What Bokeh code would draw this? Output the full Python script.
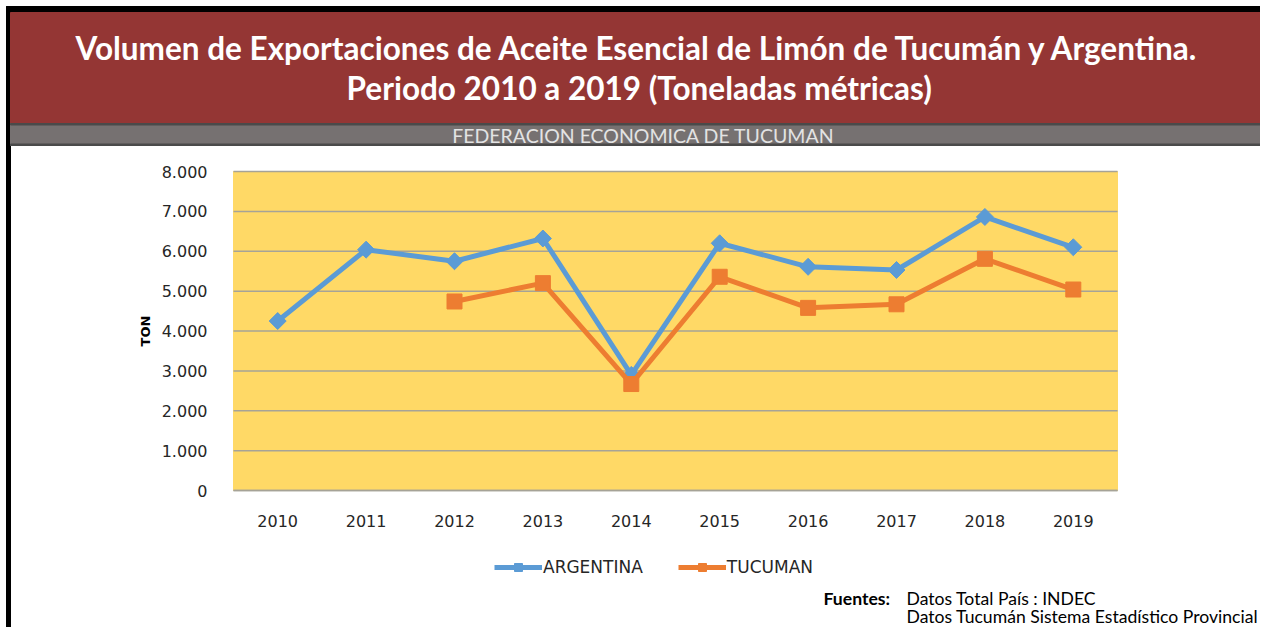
import math
from bokeh.plotting import figure
from bokeh.models import (Range1d, FixedTicker, Legend, LegendItem, ColumnDataSource,
                          LinearAxis)
from bokeh.core.properties import value
from bokeh.embed import file_html
from bokeh.resources import INLINE

# ---------------- data ----------------
years = [2010, 2011, 2012, 2013, 2014, 2015, 2016, 2017, 2018, 2019]
argentina = [4250, 6040, 5750, 6320, 2900, 6200, 5610, 5530, 6860, 6100]
tucuman = [float("nan"), float("nan"), 4740, 5200, 2670, 5360, 4580, 4670, 5810, 5040]
series_names = ["ARGENTINA", "TUCUMAN"]
y_ticks = [0, 1000, 2000, 3000, 4000, 5000, 6000, 7000, 8000]
y_tick_labels = ["0", "1.000", "2.000", "3.000", "4.000", "5.000", "6.000", "7.000", "8.000"]
y_axis_title = "TON"
title_lines = ["Volumen de Exportaciones  de Aceite Esencial de Limón de Tucumán y Argentina.",
               "Periodo 2010 a 2019 (Toneladas  métricas)"]
subtitle = "FEDERACION ECONOMICA DE TUCUMAN"
sources_label = "Fuentes:"
sources_lines = ["Datos Total País : INDEC", "Datos Tucumán Sistema Estadístico Provincial"]

BLUE = "#5B9BD5"
ORANGE = "#ED7D31"
YELLOW = "#FFD966"
GRID = "#A6A397"

# ---------------- page layout (pixels) ----------------
W, H = 1260, 627
PL, PR, PT, PB = 233, 1117, 171, 490          # plot area edges on the canvas
Y_MAX = 8000
n = len(years)
step = (PR - PL) / n
x_lo = years[0] - 0.5 - PL / step
x_hi = years[-1] + 0.5 + (W - PR) / step
k = Y_MAX / (PB - PT)
y_lo = -(H - PB) * k
y_hi = PB * k

p = figure(width=W, height=H, x_range=Range1d(0, W), y_range=Range1d(H, 0),
           x_axis_type=None, y_axis_type=None, toolbar_location=None,
           output_backend="svg", min_border=0)
p.extra_x_ranges = {"yr": Range1d(x_lo, x_hi)}
p.extra_y_ranges = {"ton": Range1d(y_lo, y_hi)}
p.background_fill_color = "white"
p.border_fill_color = "white"
p.outline_line_color = None

# ---------------- header ----------------
p.quad(left=6, right=W, top=6, bottom=12, color="black")
p.quad(left=6, right=10, top=6, bottom=H, color="black")
p.quad(left=10, right=W, top=12, bottom=123, color="#943634")
p.quad(left=10, right=W, top=123, bottom=145, color="#767171")
p.quad(left=10, right=W, top=123, bottom=124.5, color="#4a4a4a")
p.quad(left=10, right=W, top=143.5, bottom=145, color="#4a4a4a")
p.text(x=[641.5, 642.5], y=[47, 87], text=title_lines, text_align="center",
       text_baseline="middle", text_color="white", text_font=value("Lato"),
       text_font_style="bold", text_font_size="31.5px")
p.text(x=[643], y=[134.5], text=[subtitle], text_align="center", text_baseline="middle",
       text_color="#E3E3E3", text_font=value("Lato"), text_font_size="19.5px")

# ---------------- plot area ----------------
first, last = years[0] - 0.5, years[-1] + 0.5
p.quad(left=[first], right=[last], bottom=[0], top=[Y_MAX], color=YELLOW,
       x_range_name="yr", y_range_name="ton")
p.segment(x0=[first] * len(y_ticks), x1=[last] * len(y_ticks), y0=y_ticks, y1=y_ticks,
          line_color=GRID, line_width=1.5, x_range_name="yr", y_range_name="ton")

src = ColumnDataSource(dict(year=years, arg=argentina, tuc=tucuman))
la = p.line("year", "arg", source=src, line_color=BLUE, line_width=5,
            x_range_name="yr", y_range_name="ton")
ma = p.scatter("year", "arg", source=src, marker="square", angle=math.pi / 4,
               size=12, fill_color=BLUE, line_color=BLUE,
               x_range_name="yr", y_range_name="ton")
lt = p.line("year", "tuc", source=src, line_color=ORANGE, line_width=5,
            x_range_name="yr", y_range_name="ton")
mt = p.scatter("year", "tuc", source=src, marker="square", size=15,
               fill_color=ORANGE, line_color=ORANGE,
               x_range_name="yr", y_range_name="ton")

# ---------------- axes ----------------
yax = LinearAxis(x_range_name="yr", y_range_name="ton", fixed_location=first,
                 bounds=(0, Y_MAX), ticker=FixedTicker(ticks=y_ticks))
yax.major_label_overrides = {t: l for t, l in zip(y_ticks, y_tick_labels)}
yax.axis_line_color = None
yax.major_tick_line_color = None
yax.minor_tick_line_color = None
yax.major_label_standoff = 20
yax.axis_label = y_axis_title
yax.axis_label_standoff = 6
yax.axis_label_text_font = "DejaVu Sans"
yax.axis_label_text_font_style = "bold"
yax.axis_label_text_font_size = "13px"
yax.axis_label_text_color = "black"
p.add_layout(yax, "left")

xax = LinearAxis(x_range_name="yr", y_range_name="ton", fixed_location=0,
                 bounds=(first, last), ticker=FixedTicker(ticks=years))
xax.major_label_overrides = {y: str(y) for y in years}
xax.axis_line_color = GRID
xax.axis_line_width = 1.5
xax.major_tick_line_color = None
xax.minor_tick_line_color = None
xax.major_label_standoff = 18
p.add_layout(xax, "below")

for ax in (xax, yax):
    ax.major_label_text_font = "DejaVu Sans"
    ax.major_label_text_font_size = "16px"
    ax.major_label_text_color = "#262626"

legend = Legend(items=[LegendItem(label=series_names[0], renderers=[la, ma]),
                       LegendItem(label=series_names[1], renderers=[lt, mt])],
                orientation="horizontal", location=(494, 50),
                glyph_width=48, glyph_height=20, label_standoff=1, spacing=35,
                padding=5, margin=0, border_line_color=None, background_fill_alpha=0,
                label_text_font="DejaVu Sans", label_text_font_size="17px",
                label_text_color="#262626")
p.add_layout(legend)

# ---------------- footer ----------------
p.text(x=[823], y=[598], text=[sources_label], text_align="left", text_baseline="middle",
       text_color="black", text_font=value("Lato"), text_font_style="bold",
       text_font_size="17.6px")
p.text(x=[906, 906], y=[598, 616], text=sources_lines, text_align="left",
       text_baseline="middle", text_color="black", text_font=value("Lato"),
       text_font_size="17.6px")

open("out.html", "w").write(file_html(p, INLINE))
